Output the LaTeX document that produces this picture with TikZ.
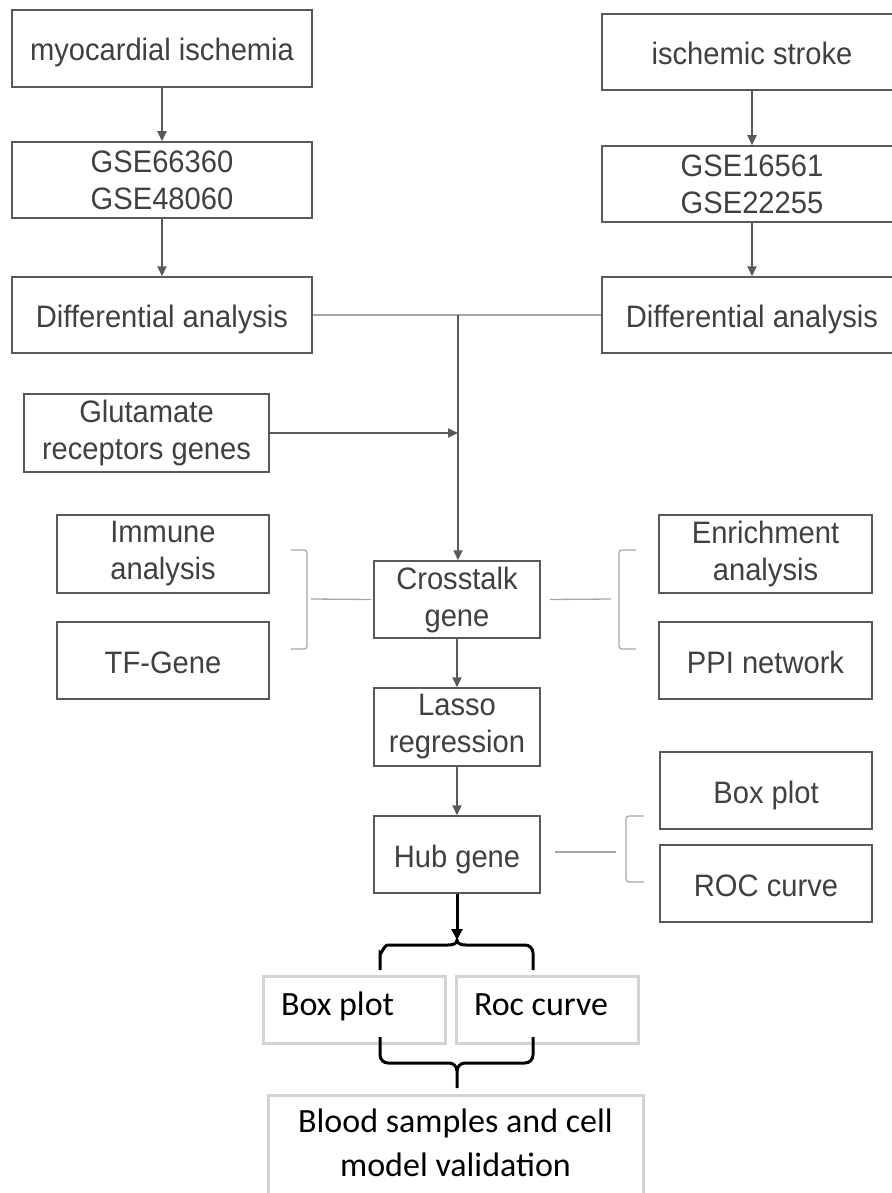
\documentclass[tikz,border=0pt]{standalone}
\usepackage{fontspec}
\setmainfont[FakeStretch=0.94]{Liberation Sans}
\newfontfamily\calfont{Carlito}
\usepackage{tikz}
\usetikzlibrary{arrows.meta,positioning,calc}

\definecolor{txtgray}{HTML}{404040}
\definecolor{boxgray}{HTML}{595959}
\definecolor{thingray}{HTML}{A6A6A6}
\definecolor{palegray}{HTML}{D3D3D3}

\begin{document}
\begin{tikzpicture}[x=1pt, y=-1pt,
    box/.style={draw=boxgray, line width=1.5pt, inner sep=0pt, align=center, text=txtgray, font=\fontsize{31}{37}\selectfont},
    oneline/.style={text height=28pt, text depth=3pt},
    pale/.style={draw=palegray, line width=3pt, inner sep=0pt, text=black, font=\calfont\fontsize{34}{44}\selectfont},
    paletag/.style={pale, minimum width=182pt, minimum height=67pt, text height=24pt, text depth=13pt},
    arr/.style={draw=boxgray, line width=2pt, -{Triangle[length=10pt,width=9pt]}},
    thinline/.style={draw=thingray, line width=1.3pt},
    bracket/.style={thinline, rounded corners=3pt},
    curly/.style={draw=black, line width=3pt}]
    \useasboundingbox (0,0) rectangle (891,1193);

    % two source columns
    \node[box, oneline, minimum width=300pt, minimum height=77pt] (myo) at (162,48.5) {myocardial ischemia};
    \node[box, oneline, minimum width=300pt, minimum height=76pt] (isc) at (752,52) {ischemic stroke};
    \node[box, minimum width=300pt, minimum height=76pt] (gseL) at (162,180) {GSE66360\\GSE48060};
    \node[box, minimum width=300pt, minimum height=76pt] (gseR) at (752,184) {GSE16561\\GSE22255};
    \node[box, oneline, minimum width=300pt, minimum height=76pt] (diffL) at (162,315) {Differential analysis};
    \node[box, oneline, minimum width=300pt, minimum height=76pt] (diffR) at (752,315) {Differential analysis};

    \draw[arr] (myo) -- (gseL);
    \draw[arr] (gseL) -- (diffL);
    \draw[arr] (isc) -- (gseR);
    \draw[arr] (gseR) -- (diffR);

    % merge into crosstalk
    \node[box, minimum width=245pt, minimum height=78pt] (glu) at (146.5,433) {Glutamate\\receptors genes};
    \node[box, minimum width=166pt, minimum height=77pt] (cross) at (457,599.5) {Crosstalk\\gene};
    \coordinate (jn) at (458,315);
    \draw[thinline] (diffL.east) -- (diffR.west);
    \draw[arr] (jn) -- (jn |- cross.north);
    \draw[arr] (glu.east) -- (glu.east -| jn);

    % side analyses
    \node[box, minimum width=212pt, minimum height=78pt] (imm) at (163,554) {Immune\\analysis};
    \node[box, oneline, minimum width=212pt, minimum height=77pt] (tfg) at (163,660.5) {TF-Gene};
    \node[box, minimum width=213pt, minimum height=78pt] (enr) at (765.5,554) {Enrichment\\analysis};
    \node[box, oneline, minimum width=213pt, minimum height=77pt] (ppi) at (765.5,660.5) {PPI network};

    \draw[bracket] (291,550) -- (307,550) -- (307,649) -- (291,649);
    \draw[bracket] (636,550) -- (619,550) -- (619,649) -- (636,649);
    \coordinate (bkL) at (311,599);
    \coordinate (bkR) at (611,599);
    \draw[thinline] (bkL) -- ([xshift=-2pt]cross.west);
    \draw[thinline] ([xshift=9pt]cross.east) -- (bkR);

    % main chain
    \node[box, minimum width=166pt, minimum height=78pt] (lasso) at (457,727) {Lasso\\regression};
    \node[box, oneline, minimum width=166pt, minimum height=77pt] (hub) at (457,854.5) {Hub gene};
    \draw[arr] (cross) -- (lasso);
    \draw[arr] (lasso) -- (hub);

    \node[box, oneline, minimum width=212pt, minimum height=77pt] (boxR) at (766,790.5) {Box plot};
    \node[box, oneline, minimum width=212pt, minimum height=77pt] (rocR) at (766,883.5) {ROC curve};
    \draw[bracket] (644,816) -- (626,816) -- (626,882) -- (644,882);
    \coordinate (bkH) at (616,852);
    \draw[thinline] ([xshift=14pt,yshift=2.5pt]hub.east) -- (bkH);

    % validation
    \node[paletag] (boxB) at (354,1009.5) {\makebox[146pt][l]{Box plot}};
    \node[paletag] (rocB) at (547,1009.5) {\makebox[146pt][l]{Roc curve}};
    \node[pale, align=center, minimum width=375pt, minimum height=120pt, text depth=24pt] (blood) at (455.5,1155) {Blood samples and cell\\model validation};

    \coordinate (tip) at (457,940);
    \draw[curly, -{Triangle[length=11pt,width=11pt]}] (hub.south) -- (tip);
    \draw[curly] (380,970) -- (380,953) to[out=-90,in=180] (388,945) -- (448,945)
        to[out=0,in=-90] (tip) to[out=-90,in=180] (466,945) -- (525,945)
        to[out=0,in=90] (533,953) -- (533,970);
    \coordinate (foot) at (457,1088);
    \draw[curly] (380,1037) -- (380,1055) to[out=-90,in=180] (388,1063) -- (449,1063)
        to[out=0,in=90] (457,1071) -- (foot);
    \draw[curly] (533,1037) -- (533,1055) to[out=-90,in=0] (525,1063) -- (465,1063)
        to[out=180,in=90] (457,1071);
\end{tikzpicture}
\end{document}
